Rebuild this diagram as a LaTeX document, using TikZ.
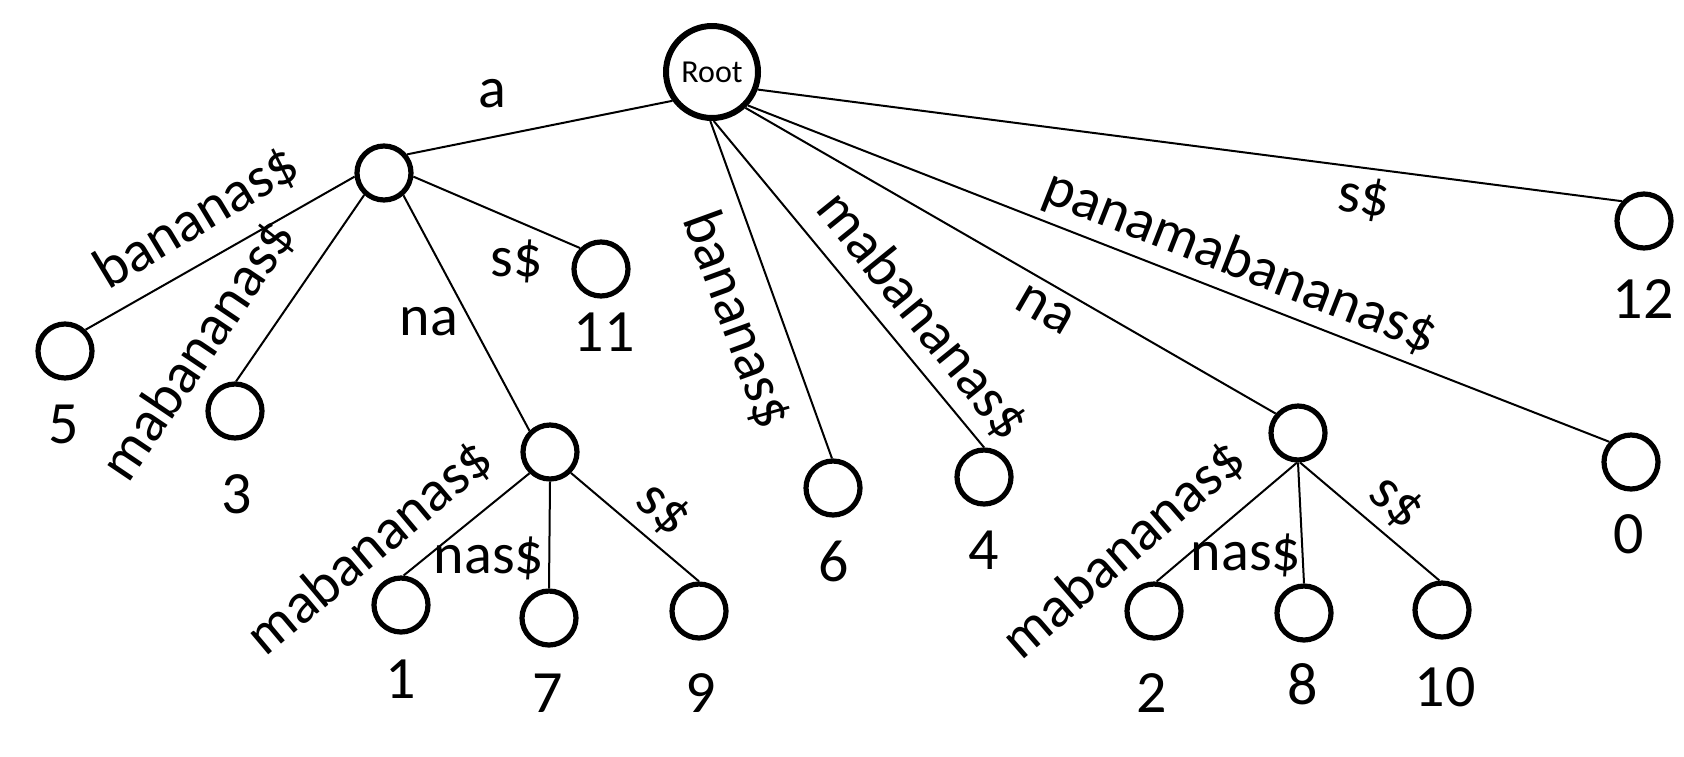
\documentclass[tikz,border=0pt]{standalone}
\usepackage{fontspec}
\setmainfont{Carlito}
\usepackage{tikz}

\begin{document}
\begin{tikzpicture}[x = 0.5pt, y = -0.5pt]
	\tikzstyle{every node} = [circle, draw = black, line width = 2.6pt, minimum size = 27pt, inner sep = 0pt]
	\tikzstyle{rootnode} = [line width = 3pt, minimum size = 46pt, font = \fontsize{16}{19}\selectfont]
	\tikzstyle{num} = [draw = none, font = \fontsize{30}{36}\selectfont]
	\tikzstyle{lbl} = [draw = none, font = \fontsize{29}{35}\selectfont]
	\tikzstyle{branch} = [draw, line width = 1pt]
	\useasboundingbox (0, 0) rectangle (1684, 756);
\node[rootnode] (root) at (712, 72) {Root};
\node (a) at (384, 173) {};
\node (na1) at (550, 452) {};
\node (na2) at (1298, 433) {};
\node (v5) at (65, 351) {};
\node (v3) at (235, 411) {};
\node (v11) at (601, 269) {};
\node (v1) at (401, 605) {};
\node (v7) at (549, 618) {};
\node (v9) at (699, 611) {};
\node (v6) at (833, 488) {};
\node (v4) at (984, 477) {};
\node (v2) at (1154, 611) {};
\node (v8) at (1304, 613) {};
\node (v10) at (1442, 610) {};
\node (v0) at (1631, 462) {};
\node (v12) at (1644, 221) {};
	\path[branch] (root.216) -- (a.39);
	\path[branch] (root.268) -- (v6.92);
	\path[branch] (root.272) -- (v4.90);
	\path[branch] (root.313) -- (na2.139);
	\path[branch] (root.317) -- (v0.137);
	\path[branch] (root.339) -- (v12.138);
	\path[branch] (a.187) -- (v5.46);
	\path[branch] (a.228) -- (v3.88);
	\path[branch] (a.311) -- (na1.134);
	\path[branch] (a.353) -- (v11.135);
	\path[branch] (na1.226) -- (v1.85);
	\path[branch] (na1.270) -- (v7.90);
	\path[branch] (na1.315) -- (v9.90);
	\path[branch] (na2.268) -- (v2.85);
	\path[branch] (na2.270) -- (v8.90);
	\path[branch] (na2.274) -- (v10.95);
% edge labels
\node[lbl] (ta) at (492, 94) {a};
\node[lbl, rotate = 31] (tbananas1) at (197, 218) {bananas\$};
\node[lbl, rotate = 56] (tmabananas1) at (199, 350) {mabananas\$};
\node[lbl] (tna1) at (429, 322) {na};
\node[lbl] (ts1) at (517, 261) {s\$};
\node[lbl, rotate = -70] (tbananas2) at (737, 320) {bananas\$};
\node[lbl, rotate = -51] (tmabananas2) at (922, 316) {mabananas\$};
\node[lbl, rotate = -30] (tna2) at (1045, 310) {na};
\node[lbl, rotate = -21.5] (tpanama) at (1240, 263) {panamabananas\$};
\node[lbl, rotate = -7] (ts2) at (1364, 199) {s\$};
\node[lbl, rotate = 40] (tmabananas3) at (370, 548) {mabananas\$};
\node[lbl] (tnas1) at (489, 558) {nas\$};
\node[lbl, rotate = -42] (ts3) at (663, 510) {s\$};
\node[lbl, rotate = 41] (tmabananas4) at (1124, 550) {mabananas\$};
\node[lbl] (tnas2) at (1246, 555) {nas\$};
\node[lbl, rotate = -42] (ts4) at (1396, 503) {s\$};
% leaf numbers
\node[num] (n5) at (64, 424) {5};
\node[num] (n3) at (237, 494) {3};
\node[num] (n11) at (604, 332) {11};
\node[num] (n1) at (401, 679) {1};
\node[num] (n7) at (548, 693) {7};
\node[num] (n9) at (701, 693) {9};
\node[num] (n6) at (834, 561) {6};
\node[num] (n4) at (984, 550) {4};
\node[num] (n2) at (1152, 693) {2};
\node[num] (n8) at (1303, 684) {8};
\node[num] (n10) at (1445, 687) {10};
\node[num] (n0) at (1629, 534) {0};
\node[num] (n12) at (1643, 299) {12};
	\end{tikzpicture}
\end{document}
